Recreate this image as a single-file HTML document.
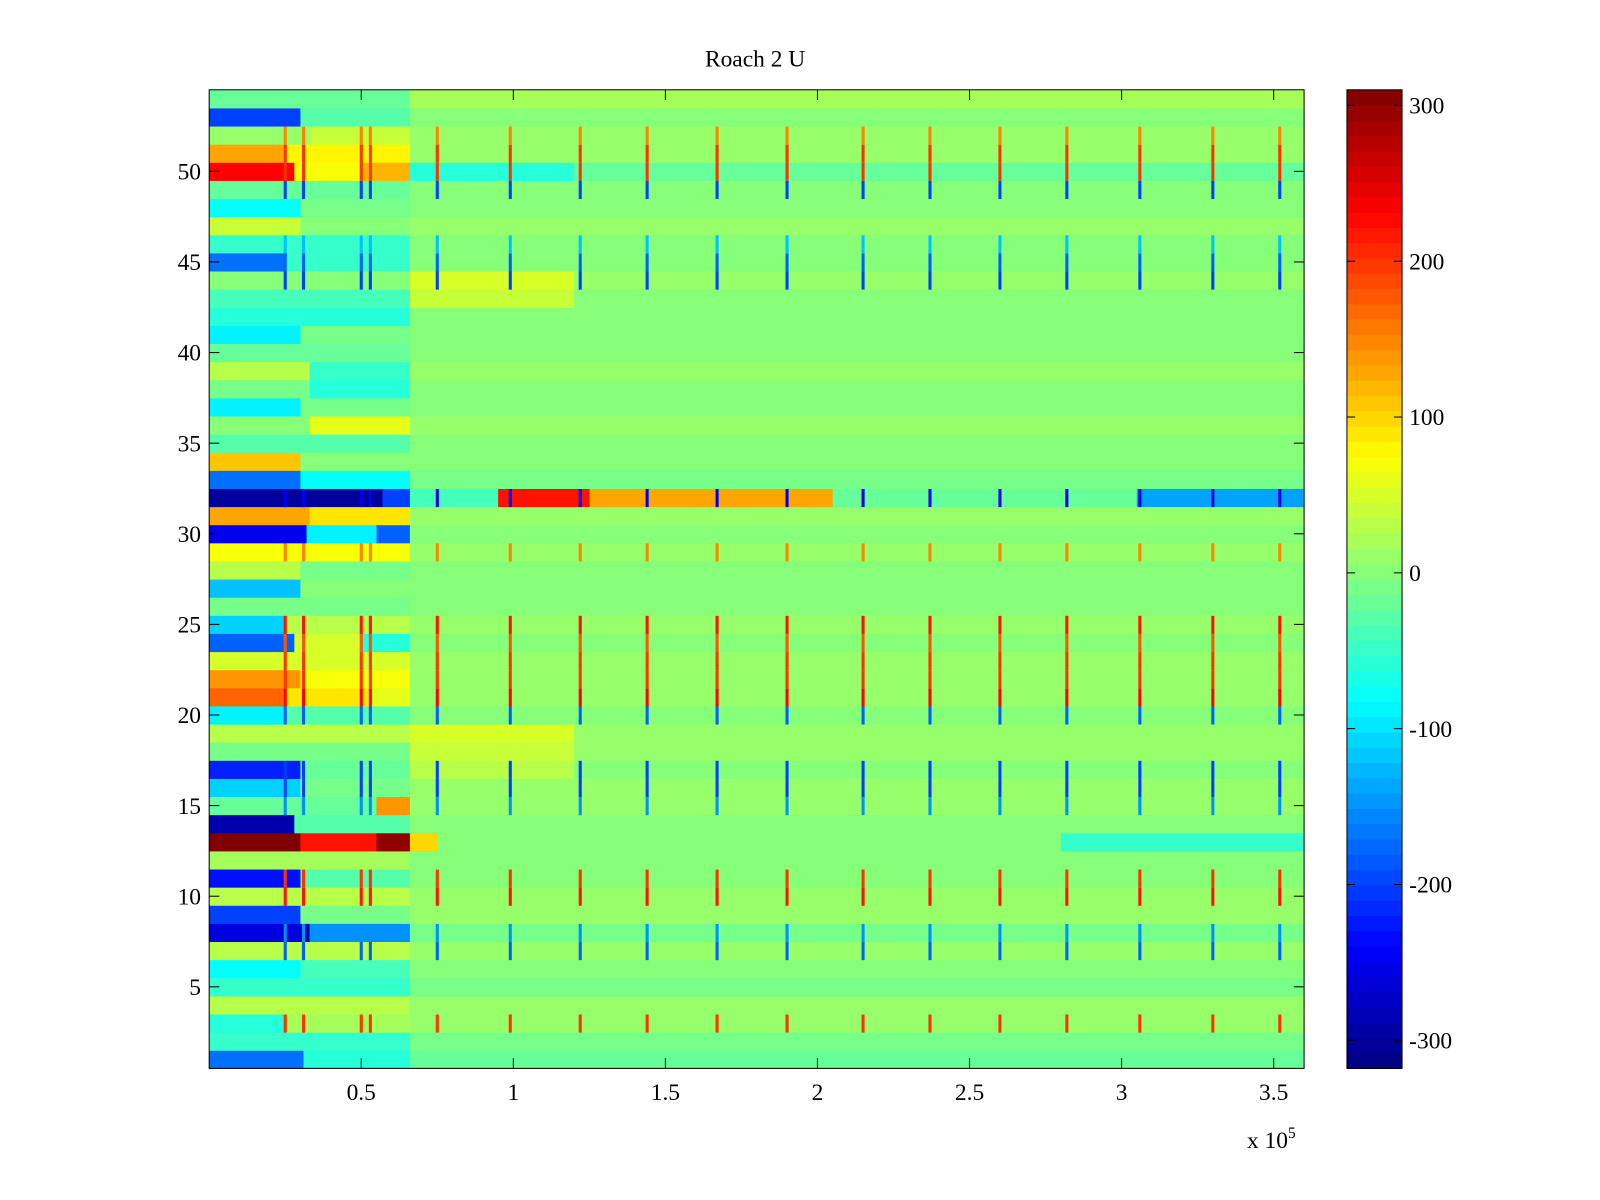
<!DOCTYPE html>
<html><head><meta charset="utf-8"><style>
html,body{margin:0;padding:0;background:#fff;}
svg{display:block;font-family:"Liberation Serif",serif;}
</style></head><body>
<svg id="chart" width="1600" height="1200" viewBox="0 0 1568 1176" xmlns="http://www.w3.org/2000/svg">
<text x="740" y="65" font-size="23" text-anchor="middle">Roach 2 U</text>
<g id="cells"></g>
<g id="cbar"></g>
<g id="axes"></g>
</svg>
<script>
// Data (x in units of 1e5; runs are [xEnd, value])
const rowRuns = [
[[0.31,-170],[0.66,-60],[3.6,-20]],
[[0.66,-50],[3.6,-10]],
[[0.25,-60],[0.66,20],[3.6,10]],
[[0.66,30],[3.6,10]],
[[0.66,-50],[3.6,-10]],
[[0.3,-80],[0.66,-40],[3.6,0]],
[[0.66,30],[3.6,10]],
[[0.3,-260],[0.33,-290],[0.66,-150],[3.6,-10]],
[[0.3,-200],[0.66,-10],[3.6,10]],
[[0.66,30],[3.6,10]],
[[0.3,-230],[0.66,-30],[3.6,0]],
[[0.66,20],[3.6,0]],
[[0.3,310],[0.55,220],[0.66,300],[0.75,100],[2.8,0],[3.6,-50]],
[[0.28,-290],[0.66,-30],[3.6,0]],
[[0.55,-20],[0.66,140],[3.6,10]],
[[0.3,-110],[0.66,-10],[3.6,10]],
[[0.3,-220],[0.66,-20],[1.2,30],[3.6,0]],
[[0.66,-10],[1.2,40],[3.6,10]],
[[0.66,30],[1.2,50],[3.6,10]],
[[0.25,-90],[0.66,-30],[3.6,0]],
[[0.25,170],[0.53,90],[0.66,60],[3.6,10]],
[[0.3,140],[0.66,70],[3.6,10]],
[[0.66,50],[3.6,10]],
[[0.28,-180],[0.5,50],[0.66,-60],[3.6,0]],
[[0.25,-110],[0.66,30],[3.6,10]],
[[0.66,-10],[3.6,0]],
[[0.3,-120],[0.66,0],[3.6,0]],
[[0.3,30],[0.66,-10],[3.6,0]],
[[0.66,70],[3.6,10]],
[[0.32,-250],[0.55,-90],[0.66,-180],[3.6,0]],
[[0.33,130],[0.66,90],[3.6,10]],
[[0.57,-300],[0.66,-200],[0.95,-40],[1.25,220],[2.05,130],[3.05,-20],[3.6,-140]],
[[0.3,-170],[0.66,-80],[3.6,-10]],
[[0.3,110],[0.66,0],[3.6,0]],
[[0.66,-30],[3.6,0]],
[[0.33,0],[0.66,60],[3.6,10]],
[[0.3,-90],[0.66,-10],[3.6,0]],
[[0.33,-10],[0.66,-60],[3.6,0]],
[[0.33,30],[0.66,-50],[3.6,10]],
[[0.66,-20],[3.6,0]],
[[0.3,-90],[0.66,-10],[3.6,0]],
[[0.66,-60],[3.6,0]],
[[0.66,-40],[1.2,40],[3.6,0]],
[[0.66,0],[1.2,50],[3.6,10]],
[[0.25,-170],[0.66,-50],[3.6,0]],
[[0.66,-50],[3.6,0]],
[[0.3,40],[0.66,0],[3.6,10]],
[[0.3,-80],[0.66,-10],[3.6,0]],
[[0.66,-20],[3.6,0]],
[[0.28,230],[0.5,70],[0.66,120],[1.2,-60],[3.6,-20]],
[[0.25,130],[0.66,80],[3.6,10]],
[[0.33,10],[0.66,40],[3.6,10]],
[[0.3,-200],[0.66,-30],[3.6,0]],
[[0.66,-20],[3.6,20]]
];
const spikeX = [0.25,0.31,0.50,0.53,0.75,0.99,1.22,1.44,1.67,1.90,2.15,2.37,2.60,2.82,3.06,3.30,3.52];
const spikeVals = {3:200,7:-180,8:-150,10:220,11:200,15:-150,16:-200,17:-200,20:-180,21:230,22:200,23:200,24:180,25:220,29:150,32:-250,44:-200,45:-180,46:-120,49:-200,50:200,51:200,52:150};
const xTicks = [0.5,1,1.5,2,2.5,3,3.5];
const xTickLabels = ["0.5","1","1.5","2","2.5","3","3.5"];
const yTicks = [5,10,15,20,25,30,35,40,45,50];
const cTicks = [300,200,100,0,-100,-200,-300];

const NS="http://www.w3.org/2000/svg";
const L=205,R=1278,T=88,B=1047, XMAX=3.6, NR=54, CMIN=-318, CMAX=310;
const xs=v=>L+(v/XMAX)*(R-L);
const ys=r=>B-(r-0.5)/NR*(B-T);
function jet(v){
  let t=(v-CMIN)/(CMAX-CMIN); t=Math.max(0,Math.min(1,t));
  const f=x=>Math.max(0,Math.min(1,x));
  const r=f(1.5-Math.abs(4*t-3)), g=f(1.5-Math.abs(4*t-2)), b=f(1.5-Math.abs(4*t-1));
  return `rgb(${Math.round(r*255)},${Math.round(g*255)},${Math.round(b*255)})`;
}
function mk(tag,attrs,parent){const e=document.createElementNS(NS,tag);for(const k in attrs)e.setAttribute(k,attrs[k]);parent.appendChild(e);return e;}
const cells=document.getElementById('cells');
rowRuns.forEach((runs,i)=>{
  const r=i+1; let x0=0;
  const y1=ys(r+0.5), y2=ys(r-0.5);
  runs.forEach(([xe,v])=>{
    const e=mk('rect',{x:xs(x0),y:y1,width:xs(xe)-xs(x0)+0.5,height:y2-y1+0.5,fill:jet(v)},cells);
    
    
    x0=xe;
  });
  if(spikeVals[r]!==undefined){
    spikeX.forEach(sx=>{
      const e=mk('rect',{x:xs(sx)-1.5,y:y1,width:3,height:y2-y1+0.5,fill:jet(spikeVals[r])},cells);
      
      
    });
  }
});
const axes=document.getElementById('axes');
const box=mk('rect',{x:L,y:T,width:R-L,height:B-T,fill:'none',stroke:'#000','stroke-width':1},axes);


xTicks.forEach((t,i)=>{
  const x=xs(t);
  mk('line',{x1:x,x2:x,y1:B,y2:B-10,stroke:'#000'},axes);
  mk('line',{x1:x,x2:x,y1:T,y2:T+10,stroke:'#000'},axes);
  const tx=mk('text',{x:x,y:B+31,'font-size':23,'text-anchor':'middle'},axes);
  tx.textContent=xTickLabels[i];
  
  
});
yTicks.forEach(t=>{
  const y=ys(t);
  mk('line',{x1:L,x2:L+10,y1:y,y2:y,stroke:'#000'},axes);
  mk('line',{x1:R,x2:R-10,y1:y,y2:y,stroke:'#000'},axes);
  const tx=mk('text',{x:197,y:y+8,'font-size':23,'text-anchor':'end'},axes);
  tx.textContent=String(t);
  
  
});
const ex=mk('text',{x:1222,y:1125,'font-size':23},axes);
ex.innerHTML='x 10<tspan font-size="15" dy="-10">5</tspan>';


// colorbar
const cb=document.getElementById('cbar');
const CL=1320,CR=1374, N=64;
for(let k=0;k<N;k++){
  const v=CMIN+(k+0.5)*(CMAX-CMIN)/N;
  const y2=B-k*(B-T)/N, y1=B-(k+1)*(B-T)/N;
  const e=mk('rect',{x:CL,y:y1,width:CR-CL,height:y2-y1+0.5,fill:jet(v)},cb);
  
  
}
mk('rect',{x:CL,y:T,width:CR-CL,height:B-T,fill:'none',stroke:'#000'},cb);
const cy=v=>B-(v-CMIN)/(CMAX-CMIN)*(B-T);
cTicks.forEach(t=>{
  const y=cy(t);
  mk('line',{x1:CL,x2:CL+8,y1:y,y2:y,stroke:'#000'},cb);
  mk('line',{x1:CR,x2:CR-8,y1:y,y2:y,stroke:'#000'},cb);
  const tx=mk('text',{x:1381,y:y+8,'font-size':23},cb);
  tx.textContent=String(t);
  
  
});
</script>
</body></html>
